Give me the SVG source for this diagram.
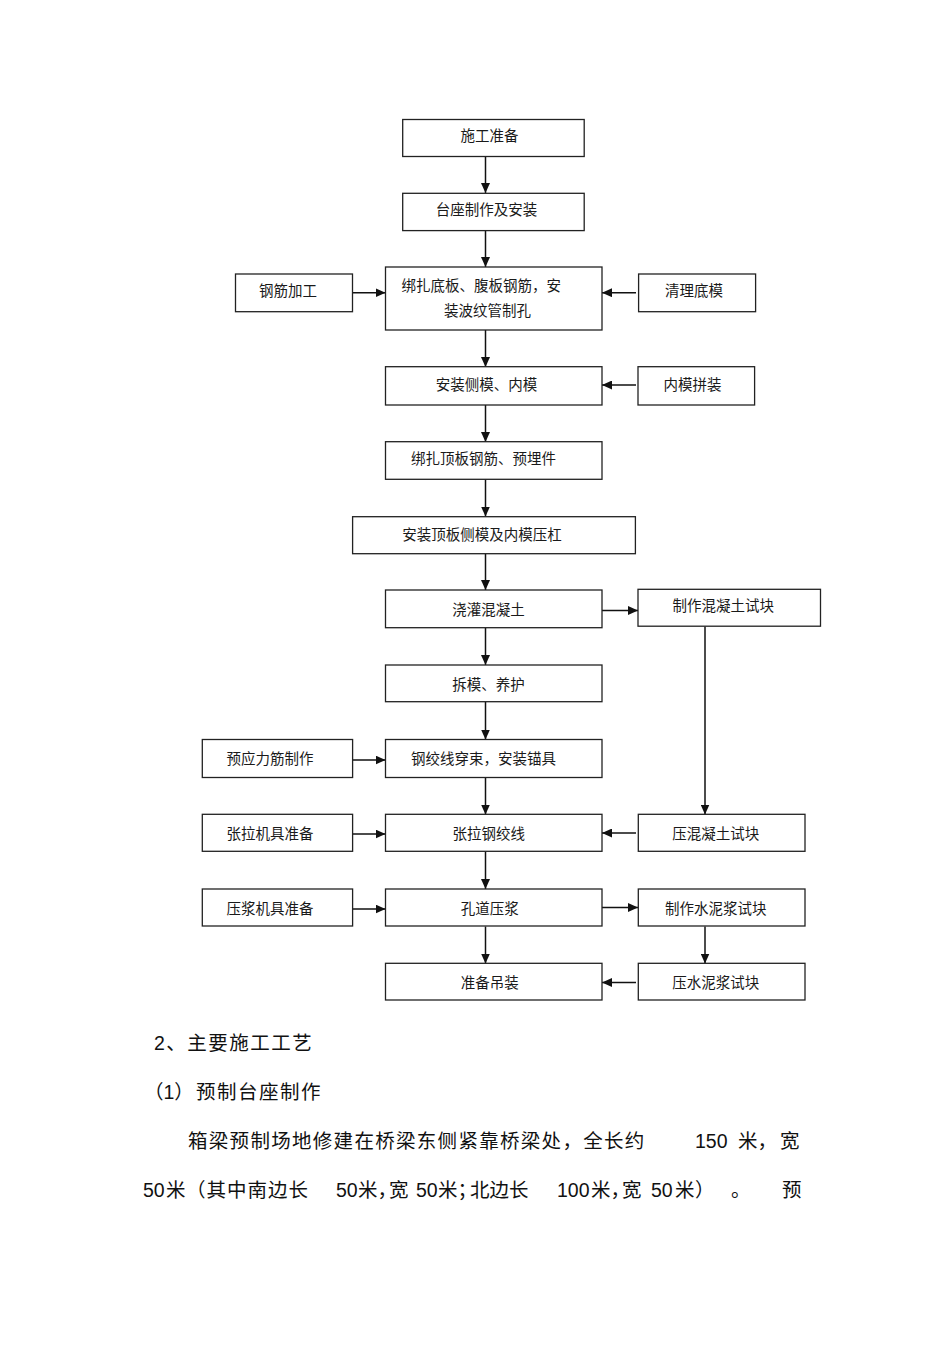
<svg xmlns="http://www.w3.org/2000/svg" width="950" height="1345" viewBox="0 0 950 1345">
<defs>
<marker id="ah" markerUnits="userSpaceOnUse" markerWidth="10" markerHeight="9" refX="10" refY="4.5" orient="auto">
<path d="M0,0 L10,4.5 L0,9 z" fill="#111"/>
</marker>
<style>
.b{fill:#fff;stroke:#222;stroke-width:1.3}
.t{font-family:"Noto Sans CJK SC","Liberation Sans",sans-serif;font-size:14.5px;fill:#1a1a1a;text-anchor:middle}
.c{stroke:#111;stroke-width:1.5;fill:none;marker-end:url(#ah)}
.p{font-family:"Liberation Sans","Noto Sans CJK SC",sans-serif;font-size:19.5px;fill:#111}
</style>
</defs>
<rect width="950" height="1345" fill="#fff"/>
<g id="connectors">
<line class="c" x1="485.5" y1="157" x2="485.5" y2="193"/>
<line class="c" x1="485.5" y1="231" x2="485.5" y2="267"/>
<line class="c" x1="352" y1="292.7" x2="385.5" y2="292.7"/>
<line class="c" x1="636" y1="292.7" x2="602" y2="292.7"/>
<line class="c" x1="485.5" y1="330" x2="485.5" y2="367"/>
<line class="c" x1="636" y1="385" x2="602" y2="385"/>
<line class="c" x1="485.5" y1="405" x2="485.5" y2="442"/>
<line class="c" x1="485.5" y1="479.5" x2="485.5" y2="516.5"/>
<line class="c" x1="485.5" y1="554" x2="485.5" y2="590"/>
<line class="c" x1="602" y1="610.5" x2="638" y2="610.5"/>
<line class="c" x1="485.5" y1="628" x2="485.5" y2="665"/>
<line class="c" x1="485.5" y1="702" x2="485.5" y2="739.5"/>
<line class="c" x1="352.5" y1="760" x2="385.5" y2="760"/>
<line class="c" x1="485.5" y1="777.5" x2="485.5" y2="814.5"/>
<line class="c" x1="705" y1="626.5" x2="705" y2="814.5"/>
<line class="c" x1="352.5" y1="834" x2="385.5" y2="834"/>
<line class="c" x1="636" y1="833" x2="602" y2="833"/>
<line class="c" x1="485.5" y1="851.5" x2="485.5" y2="889"/>
<line class="c" x1="352.5" y1="909" x2="385.5" y2="909"/>
<line class="c" x1="602" y1="907.5" x2="638" y2="907.5"/>
<line class="c" x1="485.5" y1="926.5" x2="485.5" y2="963.5"/>
<line class="c" x1="705" y1="926.5" x2="705" y2="963.5"/>
<line class="c" x1="636" y1="982.5" x2="602" y2="982.5"/>
</g>
<g id="n1"><rect class="b" x="402.7" y="119.5" width="181.5" height="37"/><text class="t" x="489.5" y="140.5">施工准备</text></g>
<g id="n2"><rect class="b" x="402.7" y="193.3" width="181.5" height="37.3"/><text class="t" x="486.5" y="214.5">台座制作及安装</text></g>
<g id="n3"><rect class="b" x="385.5" y="267" width="216.5" height="63"/><text class="t" x="401.5" y="290.5" style="text-anchor:start">绑扎底板、腹板钢筋，安</text><text class="t" x="487.5" y="315.5">装波纹管制孔</text></g>
<g id="n4"><rect class="b" x="235.5" y="274" width="117" height="37.7"/><text class="t" x="288" y="296">钢筋加工</text></g>
<g id="n5"><rect class="b" x="638.6" y="274" width="117" height="37.7"/><text class="t" x="694" y="296">清理底模</text></g>
<g id="n6"><rect class="b" x="385.5" y="366.7" width="216.5" height="38.3"/><text class="t" x="486.5" y="389.5">安装侧模、内模</text></g>
<g id="n7"><rect class="b" x="638" y="366.7" width="116.6" height="38.3"/><text class="t" x="692.5" y="389.5">内模拼装</text></g>
<g id="n8"><rect class="b" x="385.5" y="441.7" width="216.5" height="37.6"/><text class="t" x="483.6" y="463.7">绑扎顶板钢筋、预埋件</text></g>
<g id="n9"><rect class="b" x="352.6" y="516.7" width="282.8" height="37"/><text class="t" x="482" y="539.5">安装顶板侧模及内模压杠</text></g>
<g id="n10"><rect class="b" x="385.5" y="590" width="216.5" height="37.7"/><text class="t" x="488.5" y="614.5">浇灌混凝土</text></g>
<g id="n11"><rect class="b" x="638" y="589.3" width="182.5" height="36.9"/><text class="t" x="723.3" y="611">制作混凝土试块</text></g>
<g id="n12"><rect class="b" x="385.5" y="665" width="216.5" height="36.7"/><text class="t" x="488.5" y="689.5">拆模、养护</text></g>
<g id="n13"><rect class="b" x="202.3" y="739.5" width="150.3" height="38"/><text class="t" x="270" y="763.7">预应力筋制作</text></g>
<g id="n14"><rect class="b" x="385.5" y="739.5" width="216.5" height="38"/><text class="t" x="483.6" y="763.7">钢绞线穿束，安装锚具</text></g>
<g id="n15"><rect class="b" x="202.3" y="814.3" width="150.3" height="37"/><text class="t" x="270" y="838.7">张拉机具准备</text></g>
<g id="n16"><rect class="b" x="385.5" y="814.3" width="216.5" height="37"/><text class="t" x="488.8" y="838.7">张拉钢绞线</text></g>
<g id="n17"><rect class="b" x="638.3" y="814.3" width="166.7" height="37"/><text class="t" x="715.7" y="838.7">压混凝土试块</text></g>
<g id="n18"><rect class="b" x="202.3" y="889" width="150.3" height="37"/><text class="t" x="270" y="913.7">压浆机具准备</text></g>
<g id="n19"><rect class="b" x="385.5" y="889" width="216.5" height="37"/><text class="t" x="489.8" y="913.7">孔道压浆</text></g>
<g id="n20"><rect class="b" x="638.3" y="889" width="166.7" height="37"/><text class="t" x="715.7" y="913.7">制作水泥浆试块</text></g>
<g id="n21"><rect class="b" x="385.5" y="963.3" width="216.5" height="36.7"/><text class="t" x="489.8" y="987.7">准备吊装</text></g>
<g id="n22"><rect class="b" x="638.3" y="963.3" width="166.7" height="36.7"/><text class="t" x="715.7" y="987.7">压水泥浆试块</text></g>
<g id="body">
<text class="p" x="154" y="1049.5" style="letter-spacing:1.5px">2、主要施工工艺</text>
<text class="p" y="1099"><tspan x="144">（1）</tspan><tspan x="196" style="letter-spacing:1.5px">预制台座制作</tspan></text>
<text class="p" y="1147.5"><tspan x="188" style="letter-spacing:1.3px">箱梁预制场地修建在桥梁东侧紧靠桥梁处，全长约</tspan><tspan x="695">150</tspan><tspan x="738">米，</tspan><tspan x="780">宽</tspan></text>
<text class="p" y="1196.5"><tspan x="143">50</tspan><tspan x="166">米</tspan><tspan x="186" style="letter-spacing:1px">（其中南边长</tspan><tspan x="336">50</tspan><tspan x="358">米<tspan style="letter-spacing:-8px">，</tspan>宽</tspan><tspan x="416">50</tspan><tspan x="438">米<tspan style="letter-spacing:-7px">；</tspan>北边长</tspan><tspan x="557">100</tspan><tspan x="591">米<tspan style="letter-spacing:-8px">，</tspan>宽</tspan><tspan x="651">50</tspan><tspan x="675">米</tspan><tspan x="695">）</tspan><tspan x="731">。</tspan><tspan x="782">预</tspan></text>
</g>
</svg>
